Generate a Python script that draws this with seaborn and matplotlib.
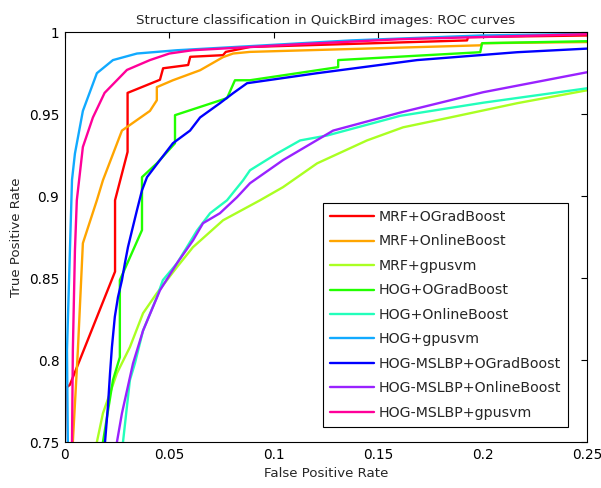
import pandas as pd
import matplotlib
matplotlib.use('Agg')
import matplotlib.pyplot as plt
import seaborn as sns
from matplotlib.ticker import FuncFormatter

# ROC curve points (FPR, TPR)
mrf_ograd_fpr = [0.0, 0.0005, 0.0024, 0.024, 0.024, 0.030, 0.030, 0.0455, 0.047, 0.059, 0.060, 0.0757, 0.077, 0.0886, 0.1925, 0.1930, 0.25]
mrf_ograd_tpr = [0.75, 0.783, 0.785, 0.854, 0.8975, 0.927, 0.963, 0.971, 0.978, 0.980, 0.985, 0.986, 0.988, 0.991, 0.995, 0.997, 0.998]

mrf_online_fpr = [0.0038, 0.0062, 0.0086, 0.0153, 0.0182, 0.0273, 0.0407, 0.044, 0.044, 0.0517, 0.0647, 0.0757, 0.0805, 0.0886, 0.1988, 0.20, 0.25]
mrf_online_tpr = [0.75, 0.806, 0.8713, 0.8975, 0.9097, 0.940, 0.952, 0.9585, 0.9665, 0.9707, 0.9768, 0.9848, 0.987, 0.988, 0.992, 0.9933, 0.994]

mrf_gpu_fpr = [0.0153, 0.0182, 0.0249, 0.0311, 0.0374, 0.044, 0.0536, 0.0613, 0.0757, 0.0934, 0.1044, 0.1207, 0.1446, 0.1619, 0.1844, 0.2165, 0.25]
mrf_gpu_tpr = [0.75, 0.7676, 0.792, 0.8079, 0.8286, 0.8408, 0.8567, 0.8689, 0.8853, 0.8975, 0.9055, 0.920, 0.934, 0.942, 0.948, 0.9567, 0.9646]

hog_ograd_fpr = [0.0182, 0.023, 0.0263, 0.0263, 0.0369, 0.0369, 0.044, 0.0527, 0.0527, 0.0776, 0.0814, 0.0886, 0.1308, 0.1308, 0.1988, 0.1997, 0.25]
hog_ograd_tpr = [0.75, 0.7878, 0.8018, 0.8488, 0.8793, 0.9116, 0.920, 0.9323, 0.9494, 0.9598, 0.9707, 0.9707, 0.9787, 0.983, 0.9878, 0.9933, 0.9945]

hog_online_fpr = [0.0278, 0.0311, 0.0335, 0.0374, 0.044, 0.0469, 0.0536, 0.0584, 0.0632, 0.0695, 0.0776, 0.0853, 0.0886, 0.1015, 0.1126, 0.1255, 0.1605, 0.2002, 0.25]
hog_online_tpr = [0.75, 0.7878, 0.798, 0.818, 0.8384, 0.8488, 0.859, 0.8689, 0.879, 0.8896, 0.8975, 0.9097, 0.9158, 0.926, 0.934, 0.937, 0.949, 0.957, 0.9658]

hog_gpu_fpr = [0.0014, 0.001, 0.0024, 0.0034, 0.0048, 0.0086, 0.0153, 0.023, 0.0345, 0.0536, 0.0886, 0.137, 0.199, 0.25]
hog_gpu_tpr = [0.75, 0.806, 0.867, 0.910, 0.926, 0.952, 0.975, 0.983, 0.987, 0.989, 0.9915, 0.995, 0.998, 0.999]

lbp_ograd_fpr = [0.0192, 0.0206, 0.0216, 0.0225, 0.0239, 0.0254, 0.0273, 0.0287, 0.0302, 0.0321, 0.0345, 0.0369, 0.0393, 0.0455, 0.0517, 0.0599, 0.0647, 0.0742, 0.0805, 0.0872, 0.1207, 0.1686, 0.2165, 0.25]
lbp_ograd_tpr = [0.75, 0.772, 0.792, 0.8079, 0.8265, 0.8384, 0.8488, 0.859, 0.869, 0.879, 0.8915, 0.9036, 0.9116, 0.922, 0.9323, 0.940, 0.948, 0.9567, 0.9628, 0.9689, 0.975, 0.983, 0.9878, 0.990]

lbp_online_fpr = [0.0249, 0.0273, 0.0326, 0.0374, 0.0455, 0.0536, 0.0613, 0.0661, 0.0742, 0.0824, 0.0886, 0.1044, 0.1284, 0.1605, 0.2002, 0.25]
lbp_online_tpr = [0.75, 0.7676, 0.798, 0.818, 0.8426, 0.859, 0.873, 0.8835, 0.8896, 0.8994, 0.9079, 0.922, 0.940, 0.951, 0.9634, 0.9756]

lbp_gpu_fpr = [0.0034, 0.0038, 0.0048, 0.0057, 0.0086, 0.0134, 0.019, 0.0297, 0.0407, 0.050, 0.061, 0.1126, 0.160, 0.25]
lbp_gpu_tpr = [0.75, 0.806, 0.867, 0.8975, 0.93, 0.948, 0.963, 0.977, 0.983, 0.987, 0.989, 0.9927, 0.9957, 0.9988]

names = ['MRF+OGradBoost', 'MRF+OnlineBoost', 'MRF+gpusvm',
         'HOG+OGradBoost', 'HOG+OnlineBoost', 'HOG+gpusvm',
         'HOG-MSLBP+OGradBoost', 'HOG-MSLBP+OnlineBoost', 'HOG-MSLBP+gpusvm']
colors = ['#FF0000', '#FFA500', '#AAFF22', '#22FF00', '#22FFBB',
          '#11AAFF', '#0000FF', '#9922FF', '#FF0099']

curves = [(mrf_ograd_fpr, mrf_ograd_tpr), (mrf_online_fpr, mrf_online_tpr),
          (mrf_gpu_fpr, mrf_gpu_tpr), (hog_ograd_fpr, hog_ograd_tpr),
          (hog_online_fpr, hog_online_tpr), (hog_gpu_fpr, hog_gpu_tpr),
          (lbp_ograd_fpr, lbp_ograd_tpr), (lbp_online_fpr, lbp_online_tpr),
          (lbp_gpu_fpr, lbp_gpu_tpr)]

# long format table for seaborn
rows = []
for name, (fpr, tpr) in zip(names, curves):
    for a, b in zip(fpr, tpr):
        rows.append({'method': name, 'fpr': a, 'tpr': b})
df = pd.DataFrame(rows)

sns.set_style("white")
plt.rcParams['font.family'] = ['DejaVu Sans']

fig = plt.figure(figsize=(6.01, 4.88), dpi=100)
ax = fig.add_axes([0.108, 0.094, 0.869, 0.840])

sns.lineplot(data=df, x='fpr', y='tpr', hue='method', hue_order=names,
             palette=dict(zip(names, colors)), estimator=None, sort=False,
             units='method', linewidth=1.7, ax=ax)

ax.set_xlim(0, 0.25)
ax.set_ylim(0.75, 1)
ax.set_xticks([0, 0.05, 0.1, 0.15, 0.2, 0.25])
ax.set_yticks([0.75, 0.8, 0.85, 0.9, 0.95, 1])
ax.xaxis.set_major_formatter(FuncFormatter(lambda v, p: '%g' % v))
ax.yaxis.set_major_formatter(FuncFormatter(lambda v, p: '%g' % v))
ax.tick_params(direction='in', length=4, width=0.8, top=True, right=True,
               labelsize=9.8, colors='black', pad=4)
for s in ax.spines.values():
    s.set_color('black')
    s.set_linewidth(0.8)

ax.set_xlabel('False Positive Rate', fontsize=9.6)
ax.set_ylabel('True Positive Rate', fontsize=9.6)
ax.set_title('Structure classification in QuickBird images: ROC curves', fontsize=9.6, pad=6)

leg = ax.legend(loc='lower right', bbox_to_anchor=(0.964, 0.037), fontsize=10.2,
                frameon=True, fancybox=False, edgecolor='black', framealpha=1,
                labelspacing=0.74, handlelength=3.1, handletextpad=0.35,
                borderpad=0.5, borderaxespad=0)
leg.get_frame().set_linewidth(0.8)

fig.savefig('out.png', dpi=100)
